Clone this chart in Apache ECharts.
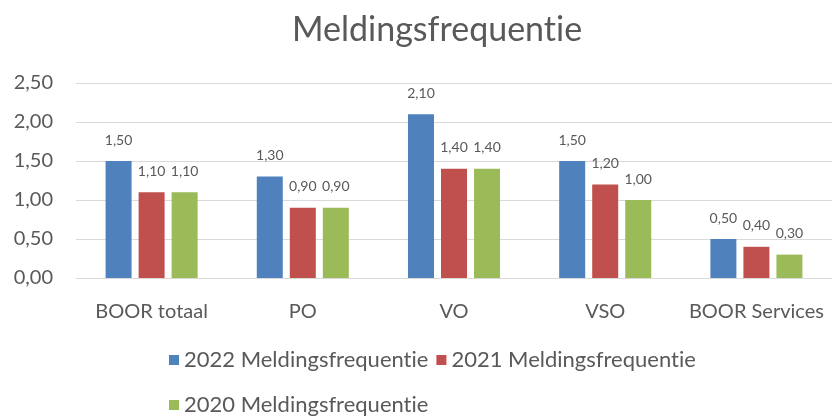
<!DOCTYPE html>
<html>
<head>
<meta charset="utf-8">
<script src="https://cdn.jsdelivr.net/npm/echarts@6/dist/echarts.min.js"></script>
<style>html,body{margin:0;padding:0;background:#fff}#c{width:832px;height:417px}</style>
</head>
<body>
<div id="c"></div>
<script>
const categories = ['BOOR totaal', 'PO', 'VO', 'VSO', 'BOOR Services'];
const seriesNames = ['2022 Meldingsfrequentie', '2021 Meldingsfrequentie', '2020 Meldingsfrequentie'];
const values2022 = [1.5, 1.3, 2.1, 1.5, 0.5];
const values2021 = [1.1, 0.9, 1.4, 1.2, 0.4];
const values2020 = [1.1, 0.9, 1.4, 1.0, 0.3];
const yTicks = [0, 0.5, 1.0, 1.5, 2.0, 2.5];
const colors = ['#4F81BD', '#C0504D', '#9BBB59'];

// Avoid Lato's "ti" ligature (reference font has none)
(function () {
  const P = CanvasRenderingContext2D.prototype;
  const setup = ctx => { try { ctx.textRendering = 'optimizeSpeed'; } catch (e) {} };
  const ft = P.fillText, mt = P.measureText;
  P.fillText = function () { setup(this); return ft.apply(this, arguments); };
  P.measureText = function () { setup(this); return mt.apply(this, arguments); };
})();

const fmt = v => v.toFixed(2).replace('.', ',');
const font = 'Lato, "Open Sans", sans-serif';
const chart = echarts.init(document.getElementById('c'));
const allValues = [values2022, values2021, values2020];
const legendText = { fontFamily: font, fontSize: 22, color: '#595959' };

chart.setOption({
  animation: false,
  title: {
    text: 'Meldingsfrequentie',
    left: 287,
    top: 8,
    textStyle: { fontFamily: font, fontSize: 34, fontWeight: 'normal', color: '#595959' }
  },
  legend: [
    {
      data: seriesNames.slice(0, 2),
      left: 164, top: 344,
      itemWidth: 10, itemHeight: 10, itemGap: 8,
      icon: 'rect',
      textStyle: legendText
    },
    {
      data: seriesNames.slice(2),
      left: 164, top: 389,
      itemWidth: 10, itemHeight: 10,
      icon: 'rect',
      textStyle: legendText
    }
  ],
  grid: { left: 76, top: 83, width: 760, height: 195, containLabel: false },
  xAxis: {
    type: 'category',
    data: categories,
    axisTick: { show: false },
    axisLine: { lineStyle: { color: '#D9D9D9' } },
    axisLabel: { fontFamily: font, fontSize: 20, color: '#595959', margin: 24, interval: 0 }
  },
  yAxis: {
    type: 'value',
    min: yTicks[0],
    max: yTicks[yTicks.length - 1],
    interval: 0.5,
    axisLine: { show: false },
    axisTick: { show: false },
    splitLine: { lineStyle: { color: '#D9D9D9' } },
    axisLabel: { fontFamily: font, fontSize: 20, color: '#595959', margin: 23, formatter: v => fmt(v) }
  },
  series: seriesNames.map((name, i) => ({
    name,
    type: 'bar',
    data: allValues[i],
    barWidth: 26,
    barGap: '27%',
    itemStyle: { color: colors[i] },
    label: {
      show: true,
      position: 'top',
      distance: 14,
      fontFamily: font,
      fontSize: 14,
      color: '#595959',
      formatter: p => fmt(p.value)
    }
  }))
});
</script>
</body>
</html>
